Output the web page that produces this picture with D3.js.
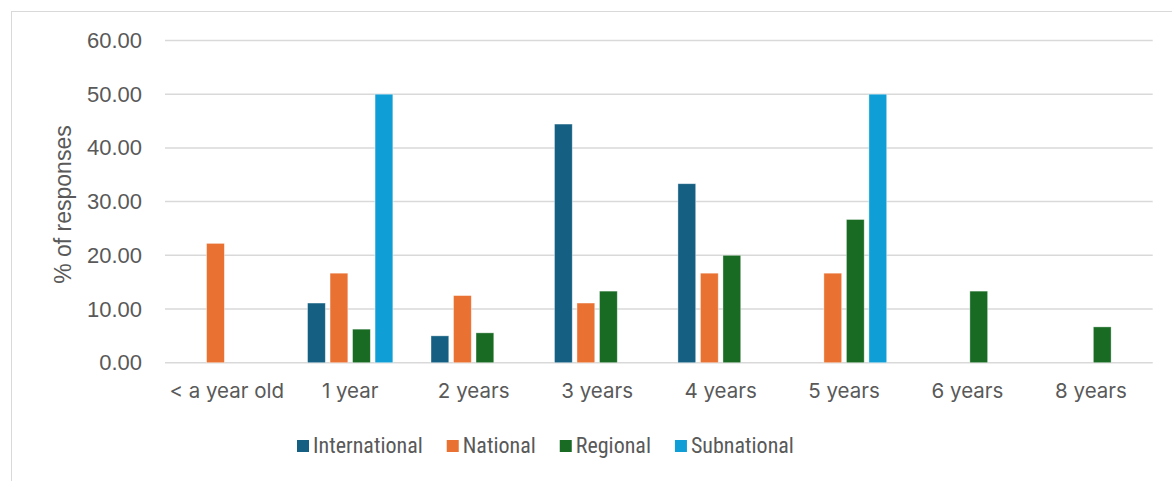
<!DOCTYPE html>
<html>
<head>
<meta charset="utf-8">
<script src="https://cdn.jsdelivr.net/npm/d3@7"></script>
<style>
  body { margin: 0; background: #fff; }
  text { fill: #595959; }
</style>
</head>
<body>
<svg id="chart" width="1172" height="481"></svg>
<script>
// categories and series
var categories = ["< a year old", "1 year", "2 years", "3 years", "4 years", "5 years", "6 years", "8 years"];
var seriesNames = ["International", "National", "Regional", "Subnational"];
var seriesColors = ["#156082", "#E97132", "#196B24", "#0F9ED5"];

// values per series (null = no bar)
var international = [null, 11.11, 5.00, 44.44, 33.33, null, null, null];
var national      = [22.22, 16.67, 12.50, 11.11, 16.67, 16.67, null, null];
var regional      = [null, 6.25, 5.56, 13.33, 20.00, 26.67, 13.33, 6.67];
var subnational   = [null, 50.00, null, null, null, 50.00, null, null];

var yTicks = [0, 10, 20, 30, 40, 50, 60];

var seriesValues = [international, national, regional, subnational];

var svg = d3.select("#chart");

// chart border
svg.append("rect")
  .attr("x", 11.5).attr("y", 11.5)
  .attr("width", 1200).attr("height", 500)
  .attr("fill", "none")
  .attr("stroke", "#d9d9d9")
  .attr("stroke-width", 1);

var plot = { left: 165, right: 1152.7, top: 40.5, bottom: 362.7 };

var x0 = d3.scaleBand()
  .domain(categories)
  .range([plot.left, plot.right])
  .padding(0);

var groupW = 85.3;
var x1 = d3.scaleBand()
  .domain(seriesNames)
  .range([0, groupW])
  .paddingInner(0.21)
  .paddingOuter(0);

var y = d3.scaleLinear()
  .domain([0, 60])
  .range([plot.bottom, plot.top]);

// gridlines
svg.append("g")
  .selectAll("line")
  .data(yTicks)
  .enter()
  .append("line")
    .attr("x1", plot.left)
    .attr("x2", plot.right)
    .attr("y1", d => y(d))
    .attr("y2", d => y(d))
    .attr("stroke", "#d9d9d9")
    .attr("stroke-width", 1.5);

// y axis labels
var leftAxis = d3.axisLeft(y)
  .tickValues(yTicks)
  .tickFormat(d3.format(".2f"))
  .tickSize(0)
  .tickPadding(23);

var yAxis = svg.append("g")
  .attr("transform", `translate(${plot.left}, 0)`)
  .call(leftAxis);
yAxis.select(".domain").remove();
yAxis.selectAll("text")
  .attr("font-family", "'Liberation Sans', Arial, sans-serif")
  .attr("font-size", 22)
  .attr("fill", "#595959");

// x axis labels
var bottomAxis = d3.axisBottom(x0).tickSize(0).tickPadding(21);
var xAxis = svg.append("g")
  .attr("transform", `translate(0, ${plot.bottom})`)
  .call(bottomAxis);
xAxis.select(".domain").remove();
xAxis.selectAll("text")
  .attr("font-family", "Inter, 'Open Sans', sans-serif")
  .attr("font-size", 20.5)
  .attr("fill", "#595959");

// y axis title
svg.append("text")
  .attr("transform", "rotate(-90)")
  .attr("x", -((plot.top + plot.bottom) / 2 + 3))
  .attr("y", 71)
  .attr("text-anchor", "middle")
  .attr("font-family", "'Liberation Sans', Arial, sans-serif")
  .attr("font-size", 23)
  .attr("fill", "#595959")
  .text("% of responses");

// bars
var groupOffset = (x0.bandwidth() - groupW) / 2;
seriesNames.forEach(function(name, si) {
  var rows = categories.map((c, i) => ({ cat: c, value: seriesValues[si][i] }))
    .filter(d => d.value !== null);
  svg.append("g")
    .selectAll("rect")
    .data(rows)
    .enter()
    .append("rect")
      .attr("x", d => x0(d.cat) + groupOffset + x1(name))
      .attr("y", d => y(d.value))
      .attr("width", x1.bandwidth())
      .attr("height", d => y(0) - y(d.value))
      .attr("fill", seriesColors[si])
      .attr("stroke", "#ffffff")
      .attr("stroke-opacity", 0.5)
      .attr("stroke-width", 0.75);
});

// legend
var legend = svg.append("g").attr("transform", "translate(297, 0)");
var lx = 0;
seriesNames.forEach(function(name, i) {
  var item = legend.append("g").attr("transform", `translate(${lx}, 0)`);
  item.append("rect")
    .attr("x", 0).attr("y", 440)
    .attr("width", 12).attr("height", 12)
    .attr("fill", seriesColors[i]);
  var t = item.append("text")
    .attr("x", 16).attr("y", 453)
    .attr("font-family", "'Liberation Sans Narrow', 'Roboto Condensed', Roboto, sans-serif")
    .attr("font-size", 22)
    .attr("fill", "#595959")
    .text(name);
  lx += 16 + t.node().getComputedTextLength() + 24;
});
</script>
</body>
</html>
